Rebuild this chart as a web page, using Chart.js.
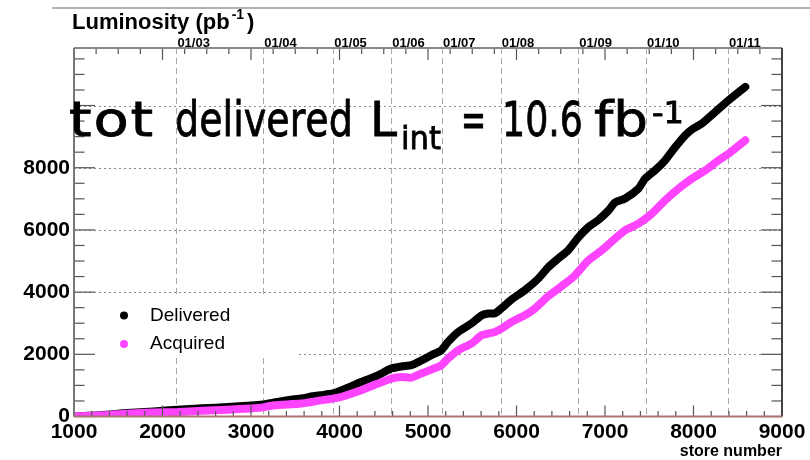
<!DOCTYPE html>
<html>
<head>
<meta charset="utf-8">
<script src="https://cdn.jsdelivr.net/npm/chart.js@4.4.1/dist/chart.umd.min.js"></script>
<style>
  html, body { margin: 0; padding: 0; background: #fff; }
</style>
</head>
<body>
<canvas id="lumiChart" width="810" height="460"></canvas>
<script>
// integrated luminosity (pb^-1) against store number
var deliveredStore = [1000, 1300, 1600, 1900, 2170, 2450, 2735, 3000, 3135, 3300, 3490, 3565, 3700, 3790, 3924,
  4018, 4130, 4245, 4434, 4584, 4698, 4811, 4924, 5037, 5150, 5226, 5340, 5490, 5604, 5680, 5755, 5830, 5943,
  6094, 6245, 6359, 6472, 6585, 6699, 6812, 6925, 7038, 7113, 7227, 7378, 7453, 7566, 7679, 7792, 7905, 7982,
  8095, 8245, 8397, 8585];
var deliveredLumi = [0, 40, 110, 165, 220, 265, 305, 350, 385, 470, 555, 580, 650, 685, 740,
  840, 970, 1110, 1325, 1540, 1610, 1650, 1800, 1970, 2130, 2400, 2715, 2990, 3250, 3310, 3320, 3480, 3760,
  4060, 4430, 4800, 5080, 5350, 5760, 6090, 6320, 6620, 6880, 7010, 7330, 7650, 7920, 8240, 8660, 9040, 9230,
  9420, 9790, 10170, 10600];

var acquiredStore = [1000, 1300, 1600, 1900, 2170, 2450, 2735, 3000, 3112, 3263, 3565, 3791, 3924, 4018, 4245,
  4434, 4584, 4698, 4811, 4924, 5037, 5150, 5226, 5340, 5490, 5604, 5679, 5755, 5830, 5943, 6094, 6207, 6350,
  6500, 6640, 6812, 6963, 7113, 7227, 7378, 7529, 7679, 7831, 7982, 8133, 8284, 8397, 8585];
var acquiredLumi = [0, 35, 90, 125, 145, 185, 220, 260, 285, 360, 415, 520, 575, 627, 842,
  1058, 1219, 1270, 1250, 1380, 1508, 1646, 1862, 2128, 2344, 2611, 2665, 2717, 2826, 3039, 3254, 3469, 3850,
  4170, 4480, 5022, 5344, 5720, 5987, 6202, 6524, 6952, 7328, 7650, 7916, 8238, 8453, 8881];

var xTicks = [1000, 2000, 3000, 4000, 5000, 6000, 7000, 8000, 9000];
var yTicks = [0, 2000, 4000, 6000, 8000, 10000];
var yLabelled = [0, 2000, 4000, 6000, 8000];

// first store of each new year
var dateLabels = ['01/03', '01/04', '01/05', '01/06', '01/07', '01/08', '01/09', '01/10', '01/11'];
var dateStores = [2157, 3138, 3930, 4584, 5158, 5822, 6699, 7464, 8390];

var BLACK = '#000000';
var MAGENTA = '#ff44ff';
var AXIS_FONT = '"Liberation Sans", Arial, sans-serif';
var NOTE_FONT = '"Comic Sans MS", "DejaVu Sans", sans-serif';

function toPoints(xs, ys) {
  return xs.map(function (x, i) { return { x: x, y: ys[i] }; });
}

// place a word inside [x0, x1]: squeeze it if too wide, otherwise widen it a little
// and spread the letters for the rest
function fitText(ctx, txt, x0, x1, base, size) {
  ctx.font = size + 'px ' + NOTE_FONT;
  ctx.lineWidth = 0.8;
  var w = ctx.measureText(txt).width;
  var target = x1 - x0;
  var sx = target / w;
  if (sx > 1.2 && txt.length > 1) sx = 1.2;
  var gap = txt.length > 1 ? (target - w * sx) / (txt.length - 1) : 0;
  ctx.save();
  ctx.translate(x0, base);
  ctx.scale(sx, 1);
  var x = 0;
  for (var i = 0; i < txt.length; i++) {
    ctx.fillText(txt[i], x, 0);
    ctx.strokeText(txt[i], x, 0);
    x += ctx.measureText(txt[i]).width + gap / sx;
  }
  ctx.restore();
}

var rootFrame = {
  id: 'rootFrame',
  beforeDatasetsDraw: function (chart) {
    var ctx = chart.ctx, a = chart.chartArea, xs = chart.scales.x, ys = chart.scales.y;
    ctx.save();
    ctx.lineWidth = 1;
    ctx.strokeStyle = '#8a8a8a';
    ctx.setLineDash([2, 3]);
    yTicks.forEach(function (v) {
      if (v === 0) return;
      var y = Math.round(ys.getPixelForValue(v)) + 0.5;
      ctx.beginPath(); ctx.moveTo(a.left, y); ctx.lineTo(a.right, y); ctx.stroke();
    });
    ctx.strokeStyle = '#a8a8a8';
    ctx.setLineDash([6, 4]);
    dateStores.forEach(function (s) {
      var x = Math.round(xs.getPixelForValue(s)) + 0.5;
      ctx.beginPath(); ctx.moveTo(x, a.top); ctx.lineTo(x, a.bottom); ctx.stroke();
    });
    ctx.restore();
  },
  afterDatasetsDraw: function (chart) {
    var ctx = chart.ctx, a = chart.chartArea, xs = chart.scales.x, ys = chart.scales.y;
    var ds = chart.data.datasets;
    ctx.save();

    // legend box
    ctx.fillStyle = '#ffffff';
    ctx.fillRect(a.left + 1, 297, 224, 61);
    ctx.font = '19px ' + AXIS_FONT;
    ctx.textBaseline = 'middle';
    ds.slice().sort(function (p, q) { return q.order - p.order; }).forEach(function (d, i) {
      var y = 315.5 + i * 28.5;
      ctx.fillStyle = d.borderColor;
      ctx.beginPath(); ctx.arc(124, y, 4, 0, Math.PI * 2); ctx.fill();
      ctx.fillStyle = '#000';
      ctx.fillText(d.label, 150, y);
    });

    // tick marks, drawn inwards
    var v, x, y, len;
    ctx.lineWidth = 1.2;
    ctx.strokeStyle = '#555';
    for (v = 0; v <= ys.max; v += 500) {
      y = ys.getPixelForValue(v);
      len = v % 2000 === 0 ? 21 : 10.5;
      ctx.beginPath(); ctx.moveTo(a.left, y); ctx.lineTo(a.left + len, y); ctx.stroke();
      ctx.beginPath(); ctx.moveTo(a.right, y); ctx.lineTo(a.right - len, y); ctx.stroke();
    }
    for (v = 1000; v <= 9000; v += 200) {
      x = xs.getPixelForValue(v);
      len = v % 1000 === 0 ? 11 : 5.5;
      ctx.beginPath(); ctx.moveTo(x, a.bottom); ctx.lineTo(x, a.bottom - len); ctx.stroke();
    }
    for (v = 1000; v <= 9000; v += 250) {
      x = xs.getPixelForValue(v);
      len = v % 1000 === 0 ? 12 : 6;
      ctx.beginPath(); ctx.moveTo(x, a.top); ctx.lineTo(x, a.top + len); ctx.stroke();
    }

    // frame
    ctx.lineWidth = 2;
    ctx.strokeStyle = '#888';
    ctx.beginPath(); ctx.moveTo(a.left, a.top); ctx.lineTo(a.right, a.top); ctx.stroke();
    ctx.strokeStyle = '#777';
    ctx.beginPath(); ctx.moveTo(a.left, a.top); ctx.lineTo(a.left, a.bottom); ctx.stroke();
    ctx.strokeStyle = '#444';
    ctx.beginPath(); ctx.moveTo(a.right, a.top); ctx.lineTo(a.right, a.bottom); ctx.stroke();
    ctx.strokeStyle = '#a87474';
    ctx.beginPath(); ctx.moveTo(a.left, a.bottom); ctx.lineTo(a.right, a.bottom); ctx.stroke();

    // year labels on the top axis
    ctx.fillStyle = '#000';
    ctx.font = 'bold 13px ' + AXIS_FONT;
    ctx.textBaseline = 'alphabetic';
    ctx.textAlign = 'left';
    dateStores.forEach(function (s, i) {
      ctx.fillText(dateLabels[i], xs.getPixelForValue(s) + 1, a.top - 1);
    });

    // axis titles
    ctx.font = 'bold 22px ' + AXIS_FONT;
    ctx.fillText('Luminosity (pb', 72, 29);
    var w = ctx.measureText('Luminosity (pb').width;
    ctx.font = 'bold 14px ' + AXIS_FONT;
    ctx.fillText('-1', 72 + w + 2, 19);
    var w2 = ctx.measureText('-1').width;
    ctx.font = 'bold 22px ' + AXIS_FONT;
    ctx.fillText(')', 72 + w + w2 + 5, 29);

    ctx.font = 'bold 16px ' + AXIS_FONT;
    ctx.textAlign = 'right';
    ctx.fillText('store number', a.right, 456);

    // total delivered note
    ctx.textAlign = 'left';
    ctx.strokeStyle = '#000';
    fitText(ctx, 'tot', 69, 153, 136, 48);
    fitText(ctx, 'delivered', 175, 352, 136, 48);
    fitText(ctx, 'L', 370, 397, 136, 48);
    fitText(ctx, 'int', 401, 441, 149, 32);
    fitText(ctx, '=', 461, 486, 136, 48);
    fitText(ctx, '10.6', 502, 583, 136, 48);
    fitText(ctx, 'fb', 594, 648, 136, 48);
    fitText(ctx, '-1', 652, 684, 123, 30);

    ctx.restore();
  }
};

// page rule above the plot
var pageRule = {
  id: 'pageRule',
  beforeDraw: function (chart) {
    var ctx = chart.ctx;
    ctx.save();
    ctx.strokeStyle = '#9a9a9a';
    ctx.lineWidth = 1.5;
    ctx.beginPath(); ctx.moveTo(52, 8); ctx.lineTo(810, 8); ctx.stroke();
    ctx.restore();
  }
};

var ctx = document.getElementById('lumiChart').getContext('2d');
var lumiChart = new Chart(ctx, {
  type: 'line',
  data: {
    datasets: [{
      label: 'Delivered',
      data: toPoints(deliveredStore, deliveredLumi),
      borderColor: BLACK,
      backgroundColor: BLACK,
      borderWidth: 8,
      pointRadius: 0,
      tension: 0.2,
      borderCapStyle: 'round',
      borderJoinStyle: 'round',
      order: 2
    }, {
      label: 'Acquired',
      data: toPoints(acquiredStore, acquiredLumi),
      borderColor: MAGENTA,
      backgroundColor: MAGENTA,
      borderWidth: 8,
      pointRadius: 0,
      tension: 0.2,
      borderCapStyle: 'round',
      borderJoinStyle: 'round',
      order: 1
    }]
  },
  options: {
    responsive: false,
    animation: false,
    layout: { padding: { top: 48, right: 28, left: 0, bottom: 0 } },
    plugins: { legend: { display: false }, tooltip: { enabled: false } },
    scales: {
      x: {
        type: 'linear',
        min: 1000,
        max: 9000,
        grid: { display: false, drawTicks: false },
        border: { display: false },
        afterBuildTicks: function (s) { s.ticks = xTicks.map(function (v) { return { value: v }; }); },
        afterFit: function (s) { s.height = 43.5; },
        ticks: {
          autoSkip: false,
          maxRotation: 0,
          padding: 3,
          color: '#000',
          font: { family: AXIS_FONT, size: 21, weight: 'bold' },
          callback: function (v) { return String(v); }
        }
      },
      y: {
        min: 0,
        max: 11850,
        grid: { display: false, drawTicks: false },
        border: { display: false },
        afterBuildTicks: function (s) { s.ticks = yTicks.map(function (v) { return { value: v }; }); },
        afterFit: function (s) { s.width = 74; },
        ticks: {
          padding: 4,
          color: '#000',
          font: { family: AXIS_FONT, size: 21, weight: 'bold' },
          callback: function (v) { return yLabelled.indexOf(v) >= 0 ? String(v) : ''; }
        }
      }
    }
  },
  plugins: [pageRule, rootFrame]
});
</script>
</body>
</html>
